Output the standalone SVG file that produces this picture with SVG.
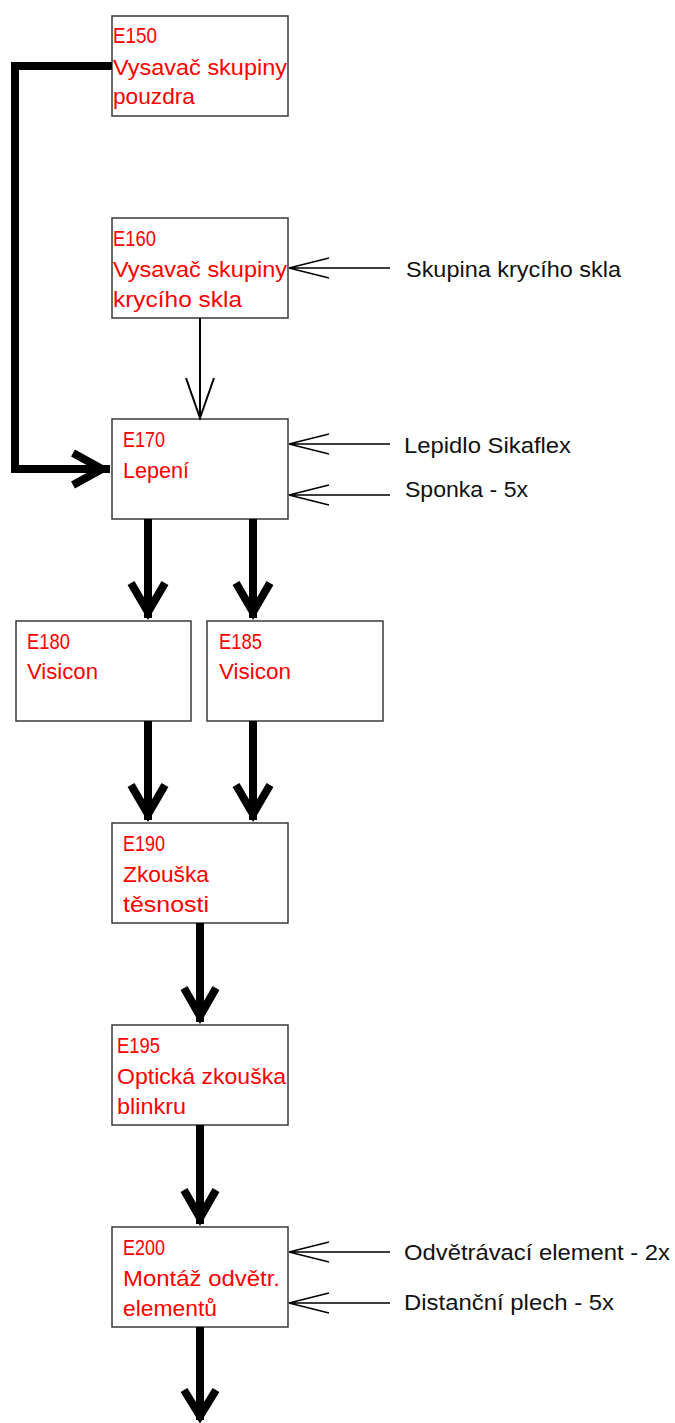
<svg xmlns="http://www.w3.org/2000/svg" width="675" height="1423" viewBox="0 0 675 1423">
  <style>
    .box { fill: #ffffff; stroke: #3a3a3a; stroke-width: 1.5; }
    .lbl { font-family: "Liberation Sans", "DejaVu Sans", sans-serif; font-size: 22px; fill: #ff0000; }
    .in { font-family: "Liberation Sans", "DejaVu Sans", sans-serif; font-size: 22px; fill: #111111; }
    .thick { fill: none; stroke: #000000; stroke-width: 8; stroke-linecap: butt; stroke-linejoin: miter; stroke-miterlimit: 10; }
    .thin { fill: none; stroke: #000000; stroke-width: 1.4; }
    .mid { fill: none; stroke: #000000; stroke-width: 2; }
  </style>
  <rect width="675" height="1423" fill="#ffffff"/>

  <!-- process steps -->
  <g id="E150">
    <rect class="box" x="112" y="16" width="176" height="100"/>
    <text class="lbl" x="113" y="43" textLength="44" lengthAdjust="spacingAndGlyphs">E150</text>
    <text class="lbl" x="113" y="75" textLength="174" lengthAdjust="spacingAndGlyphs">Vysavač skupiny</text>
    <text class="lbl" x="113" y="104" textLength="82" lengthAdjust="spacingAndGlyphs">pouzdra</text>
  </g>
  <g id="E160">
    <rect class="box" x="112" y="218" width="176" height="100"/>
    <text class="lbl" x="113" y="246" textLength="43" lengthAdjust="spacingAndGlyphs">E160</text>
    <text class="lbl" x="113" y="277" textLength="174" lengthAdjust="spacingAndGlyphs">Vysavač skupiny</text>
    <text class="lbl" x="113" y="307" textLength="129" lengthAdjust="spacingAndGlyphs">krycího skla</text>
  </g>
  <g id="E170">
    <rect class="box" x="112" y="419" width="176" height="100"/>
    <text class="lbl" x="123" y="447" textLength="42" lengthAdjust="spacingAndGlyphs">E170</text>
    <text class="lbl" x="123" y="478" textLength="66" lengthAdjust="spacingAndGlyphs">Lepení</text>
  </g>
  <g id="E180">
    <rect class="box" x="16" y="621" width="175" height="100"/>
    <text class="lbl" x="27" y="649" textLength="43" lengthAdjust="spacingAndGlyphs">E180</text>
    <text class="lbl" x="27" y="679" textLength="71" lengthAdjust="spacingAndGlyphs">Visicon</text>
  </g>
  <g id="E185">
    <rect class="box" x="207" y="621" width="176" height="100"/>
    <text class="lbl" x="219" y="649" textLength="43" lengthAdjust="spacingAndGlyphs">E185</text>
    <text class="lbl" x="219" y="679" textLength="72" lengthAdjust="spacingAndGlyphs">Visicon</text>
  </g>
  <g id="E190">
    <rect class="box" x="112" y="823" width="176" height="100"/>
    <text class="lbl" x="123" y="851" textLength="42" lengthAdjust="spacingAndGlyphs">E190</text>
    <text class="lbl" x="123" y="882" textLength="86" lengthAdjust="spacingAndGlyphs">Zkouška</text>
    <text class="lbl" x="123" y="912" textLength="86" lengthAdjust="spacingAndGlyphs">těsnosti</text>
  </g>
  <g id="E195">
    <rect class="box" x="112" y="1025" width="176" height="100"/>
    <text class="lbl" x="117" y="1053" textLength="43" lengthAdjust="spacingAndGlyphs">E195</text>
    <text class="lbl" x="117" y="1084" textLength="169" lengthAdjust="spacingAndGlyphs">Optická zkouška</text>
    <text class="lbl" x="117" y="1114" textLength="69" lengthAdjust="spacingAndGlyphs">blinkru</text>
  </g>
  <g id="E200">
    <rect class="box" x="112" y="1227" width="176" height="100"/>
    <text class="lbl" x="123" y="1255" textLength="42" lengthAdjust="spacingAndGlyphs">E200</text>
    <text class="lbl" x="123" y="1286" textLength="157" lengthAdjust="spacingAndGlyphs">Montáž odvětr.</text>
    <text class="lbl" x="123" y="1316" textLength="94" lengthAdjust="spacingAndGlyphs">elementů</text>
  </g>

  <!-- incoming parts -->
  <g id="parts">
    <text class="in" x="406" y="277" textLength="215" lengthAdjust="spacingAndGlyphs">Skupina krycího skla</text>
    <text class="in" x="404" y="453" textLength="167" lengthAdjust="spacingAndGlyphs">Lepidlo Sikaflex</text>
    <text class="in" x="405" y="497" textLength="123" lengthAdjust="spacingAndGlyphs">Sponka - 5x</text>
    <text class="in" x="404" y="1260" textLength="266" lengthAdjust="spacingAndGlyphs">Odvětrávací element - 2x</text>
    <text class="in" x="404" y="1310" textLength="210" lengthAdjust="spacingAndGlyphs">Distanční plech - 5x</text>
  </g>

  <!-- connectors -->
  <g id="connectors">
    <!-- feed arrows for parts -->
    <path class="thin" d="M390 268 H289 M329 258 L289 268 L329 278"/>
    <path class="thin" d="M390 444 H289 M329 434 L289 444 L329 454"/>
    <path class="thin" d="M390 495 H289 M329 485 L289 495 L329 505"/>
    <path class="thin" d="M390 1252 H289 M329 1242 L289 1252 L329 1262"/>
    <path class="thin" d="M390 1303 H289 M329 1293 L289 1303 L329 1313"/>

    <!-- E160 to E170 -->
    <path class="mid" d="M200 318 V418 M186 378 L200 418 L214 378"/>

    <!-- E150 return to E170 -->
    <polyline class="thick" points="112,66 15,66 15,469 110,469"/>
    <polyline class="thick" points="73,453 102,469 73,485"/>

    <!-- E170 to E180 / E185 -->
    <path class="thick" d="M148 519 V618"/>
    <polyline class="thick" points="131,583 148,612 165,583"/>
    <path class="thick" d="M253 519 V618"/>
    <polyline class="thick" points="236,583 253,612 270,583"/>

    <!-- E180 / E185 to E190 -->
    <path class="thick" d="M148 721 V820"/>
    <polyline class="thick" points="131,785 148,814 165,785"/>
    <path class="thick" d="M253 721 V820"/>
    <polyline class="thick" points="236,785 253,814 270,785"/>

    <!-- E190 to E195 -->
    <path class="thick" d="M200 923 V1022"/>
    <polyline class="thick" points="184,988 200,1016 216,988"/>

    <!-- E195 to E200 -->
    <path class="thick" d="M200 1125 V1224"/>
    <polyline class="thick" points="184,1190 200,1218 216,1190"/>

    <!-- E200 onward -->
    <path class="thick" d="M200 1327 V1420"/>
    <polyline class="thick" points="184,1390 200,1416 216,1390"/>
  </g>
</svg>
